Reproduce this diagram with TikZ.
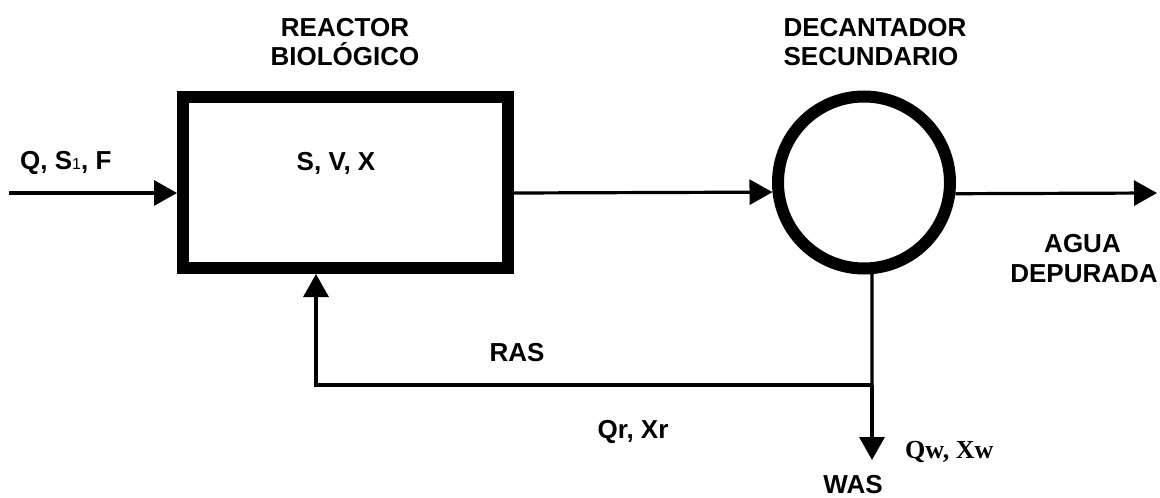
\documentclass[tikz,border=0pt]{standalone}
\usepackage{fontspec}
\setmainfont{Liberation Sans}
\newfontfamily\serifb{Liberation Serif}
\usetikzlibrary{arrows.meta}
\tikzset{
  flow/.style={line width=3.2pt, -{Triangle[length=23pt,width=25pt]}},
  plain/.style={line width=3.2pt},
  lbl/.style={font=\fontsize{26}{29}\selectfont\bfseries, inner sep=0pt},
  slbl/.style={font=\fontsize{26}{29}\selectfont\serifb\bfseries, inner sep=0pt},
  unit/.style={draw, line width=12pt, inner sep=0pt}
}
\begin{document}
\begin{tikzpicture}[x=1pt,y=-1pt]
\useasboundingbox (0,0) rectangle (1160,498);
% units
\node[unit, minimum width=325pt, minimum height=171pt] (box) at (345.5,182.5) {};
\node[unit, circle, minimum size=172pt] (circ) at (864,182.5) {};
% coordinates
\coordinate (in) at (9,193);
\coordinate (out) at (1157,193);
\coordinate (junc) at (872,385);
\coordinate (ret) at (316,385);
\coordinate (was) at (872,460);
% connectors
\draw[flow] (in) -- (box.west |- in);
\draw[flow] (box.east |- in) -- (circ.186.5);
\draw[flow] (circ.353.5) -- (out);
\draw[plain] (circ.275) -- (junc);
\draw[flow] (junc) -- (was);
\draw[flow] (junc) -- (ret) -- (box.south -| ret);
% labels
\node[lbl, anchor=base] (t1) at (345,36) {REACTOR};
\node[lbl, anchor=base] (t2) at (345,65) {BIOLÓGICO};
\node[lbl, anchor=base] (t3) at (875,36) {DECANTADOR};
\node[lbl, anchor=base] (t4) at (871,65) {SECUNDARIO};
\node[lbl, anchor=base west] (qin) at (20,169) {Q, S{\fontsize{16}{16}\selectfont\mdseries 1}, F};
\node[lbl, anchor=base] (svx) at (336,170) {S, V, X};
\node[lbl, anchor=base] (ras) at (517,361) {RAS};
\node[lbl, anchor=base] (qr) at (633,438) {Qr, Xr};
\node[slbl, anchor=base west] (qw) at (905,458) {Qw, Xw};
\node[lbl, anchor=base] (wasl) at (853,493) {WAS};
\node[lbl, anchor=base] (ag1) at (1082.5,252) {AGUA};
\node[lbl, anchor=base] (ag2) at (1084,282) {DEPURADA};
\end{tikzpicture}
\end{document}
